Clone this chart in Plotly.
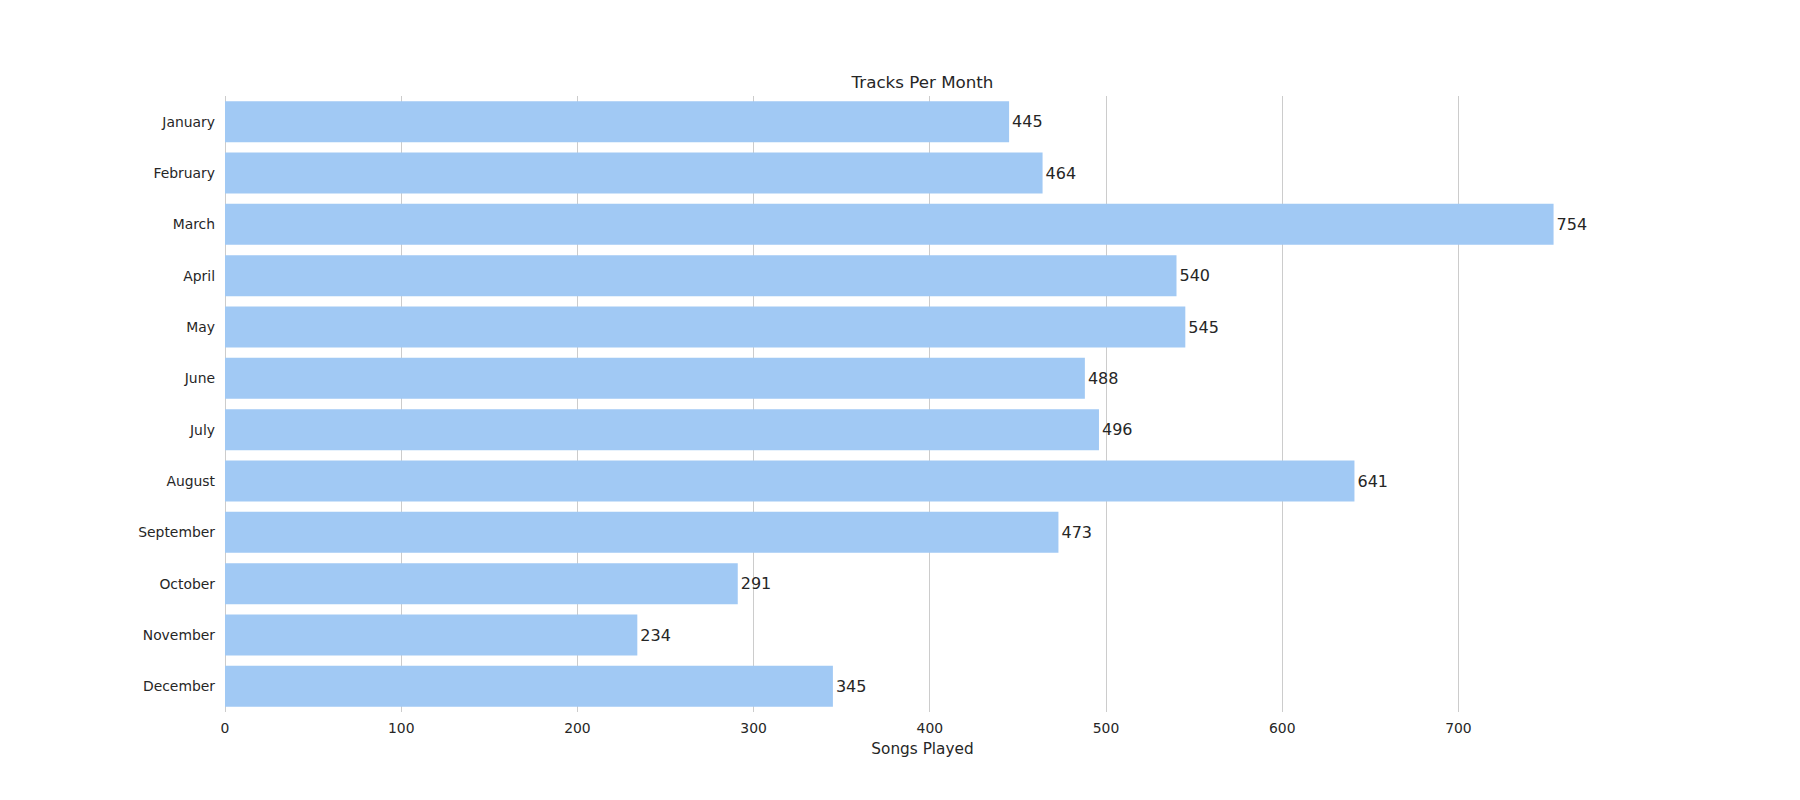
import plotly.graph_objects as go

months = ["January", "February", "March", "April", "May", "June", "July",
          "August", "September", "October", "November", "December"]
songs = [445, 464, 754, 540, 545, 488, 496, 641, 473, 291, 234, 345]
x_ticks = [0, 100, 200, 300, 400, 500, 600, 700]

TEXT = "#262626"
FONT = "DejaVu Sans"

fig = go.Figure(go.Bar(
    x=songs, y=months, orientation="h",
    marker=dict(color="#a1c9f4", line=dict(width=0)),
    text=[str(v) for v in songs], textposition="outside",
    textfont=dict(family=FONT, size=16, color=TEXT),
    constraintext="none", cliponaxis=False,
    width=0.8,
))

fig.update_layout(
    width=1792, height=792, autosize=False,
    margin=dict(l=217, r=180, t=88, b=88, pad=0),
    plot_bgcolor="white", paper_bgcolor="white",
    font=dict(family=FONT, color=TEXT),
    showlegend=False,
    title=dict(text="Tracks Per Month", x=0.5, xanchor="center",
               xref="paper", y=1, yref="paper", yanchor="bottom",
               pad=dict(b=8), font=dict(size=16.7, color=TEXT, family=FONT)),
    xaxis=dict(range=[0, 791.7], tickvals=x_ticks, showgrid=True,
               gridcolor="#cccccc", gridwidth=1, zeroline=True,
               zerolinecolor="#cccccc", zerolinewidth=1, showline=False,
               ticks="", ticklabelstandoff=6,
               tickfont=dict(size=13.9, color=TEXT),
               title=dict(text="Songs Played", font=dict(size=15.3, color=TEXT),
                          standoff=8)),
    yaxis=dict(autorange="reversed", showgrid=False, zeroline=False,
               showline=False, ticks="", ticklabelstandoff=9,
               tickfont=dict(size=13.9, color=TEXT)),
)

fig.write_html("out.html")
